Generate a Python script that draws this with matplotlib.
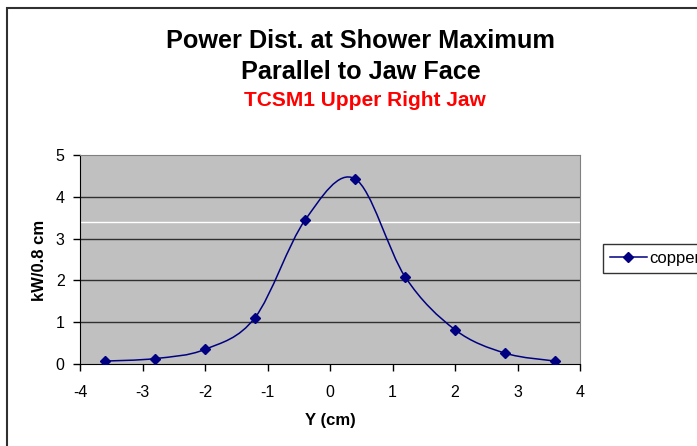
import matplotlib.pyplot as plt
from matplotlib.path import Path
from matplotlib.patches import PathPatch, Rectangle
from matplotlib.lines import Line2D

# data
y_pos = [-3.6, -2.8, -2.0, -1.2, -0.4, 0.4, 1.2, 2.0, 2.8, 3.6]
power = [0.07, 0.13, 0.35, 1.11, 3.44, 4.43, 2.09, 0.82, 0.26, 0.07]
series_name = "copper"

W, H = 697, 446
plt.rcParams['font.family'] = ['Liberation Sans', 'DejaVu Sans']
plt.rcParams['axes.unicode_minus'] = False
fig = plt.figure(figsize=(W / 100, H / 100), dpi=100)

# outer chart border (top and left visible)
fig.add_artist(Rectangle((7 / W, -0.1), 1.2, 1 - 8 / H + 0.1, transform=fig.transFigure,
                         fill=False, edgecolor='#303030', linewidth=1.5))

ax = fig.add_axes([80 / W, 1 - 364 / H, 500 / W, 209 / H])
ax.set_facecolor('#c0c0c0')
ax.set_xlim(-4, 4)
ax.set_ylim(0, 5)
ax.set_xticks(range(-4, 5))
ax.set_yticks(range(0, 6))
for v in range(1, 5):
    ax.axhline(v, color='#303030', linewidth=1, zorder=1)
ax.axhline(3.4, color='white', linewidth=1, zorder=1)

# smooth line like the spreadsheet one: cubic bezier segments through the points
pts = list(zip(y_pos, power))
verts = [pts[0]]
codes = [Path.MOVETO]
for i in range(len(pts) - 1):
    p0 = pts[i - 1] if i > 0 else pts[i]
    p1 = pts[i]
    p2 = pts[i + 1]
    p3 = pts[i + 2] if i + 2 < len(pts) else pts[i + 1]
    c1 = (p1[0] + (p2[0] - p0[0]) / 6, p1[1] + (p2[1] - p0[1]) / 6)
    c2 = (p2[0] - (p3[0] - p1[0]) / 6, p2[1] - (p3[1] - p1[1]) / 6)
    verts += [c1, c2, p2]
    codes += [Path.CURVE4] * 3
ax.add_patch(PathPatch(Path(verts, codes), fill=False, edgecolor='#000080', linewidth=1.1, zorder=3))
ax.plot(y_pos, power, linestyle='none', marker='D', markersize=5.5, color='#000080', zorder=4)

for s in ['top', 'right']:
    ax.spines[s].set_color('#808080')
for s in ['left', 'bottom']:
    ax.spines[s].set_color('black')
ax.tick_params(direction='out', length=5, width=1, labelsize=11.5, colors='black')
ax.tick_params(axis='x', pad=10)
ax.tick_params(axis='y', pad=6)

fig.text(330 / W, 1 - 420 / H, 'Y (cm)', ha='center', va='center', fontsize=12, fontweight='bold')
fig.text(39 / W, 1 - 260 / H, 'kW/0.8 cm', ha='center', va='center', rotation=90,
         fontsize=12, fontweight='bold')

fig.text(361 / W, 1 - 41 / H, 'Power Dist. at Shower Maximum', ha='center', va='center',
         fontsize=18.2, fontweight='bold')
fig.text(361 / W, 1 - 72 / H, 'Parallel to Jaw Face', ha='center', va='center',
         fontsize=18.2, fontweight='bold')
fig.text(365 / W, 1 - 101 / H, 'TCSM1 Upper Right Jaw', ha='center', va='center',
         fontsize=15, fontweight='bold', color='red')

handle = Line2D([], [], color='#000080', marker='D', markersize=5.5, linewidth=1.1)
leg = fig.legend([handle], [series_name], loc='upper left',
                 bbox_to_anchor=(603 / W, 1 - 244 / H), fontsize=12, frameon=True,
                 fancybox=False, edgecolor='black', borderpad=0.42, handlelength=2.2,
                 handletextpad=0.15, borderaxespad=0)
leg.get_frame().set_linewidth(1)

fig.savefig('out.png', dpi=100)
